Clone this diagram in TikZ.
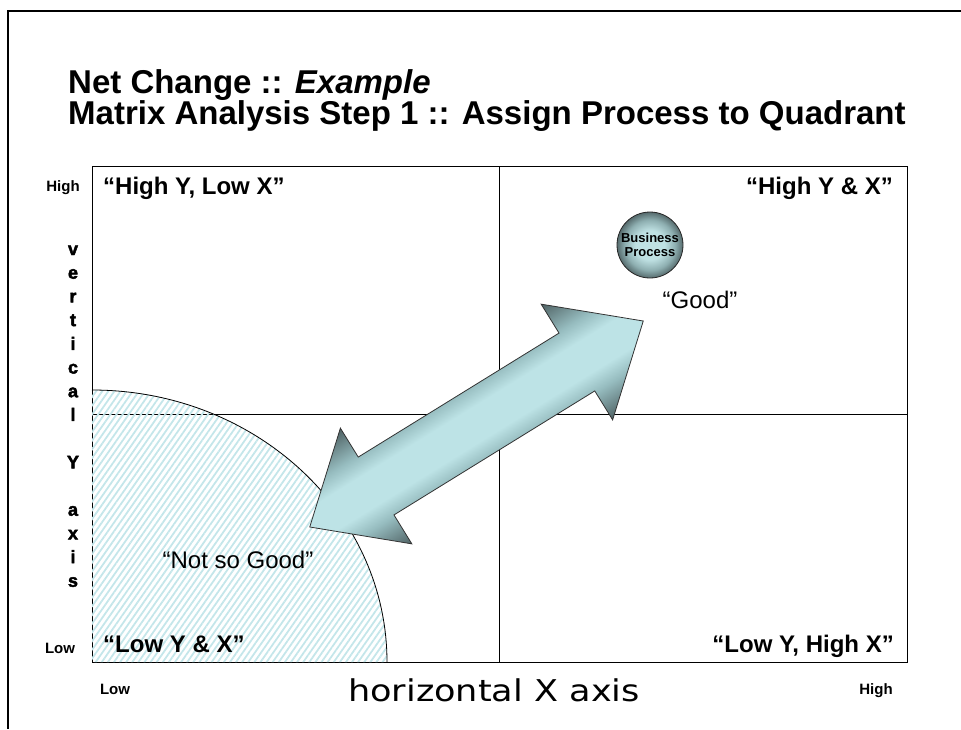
\documentclass[tikz,border=0pt]{standalone}
\usepackage{fontspec}
\setmainfont{Liberation Sans}
\newfontfamily\axisfont[FakeStretch=1.17]{DejaVu Sans}
\newfontfamily\heavyfont[BoldFeatures={FakeBold=2.5}]{Liberation Sans}
\usepackage{tikz}
\usepackage{xcolor}
\usetikzlibrary{patterns.meta}

\definecolor{hatch-cyan}{HTML}{C4E6EA}
\definecolor{arrow-dark}{HTML}{4F6264}
\definecolor{arrow-mid}{HTML}{96BCBF}
\definecolor{arrow-light}{HTML}{BDE3E6}
\definecolor{ball-light}{HTML}{BFE1E3}
\definecolor{ball-mid}{HTML}{8EAFB1}
\definecolor{ball-dark}{HTML}{566B6D}
\pgfdeclareverticalshading{arrow-shade}{100bp}{color(0bp)=(arrow-dark); color(25bp)=(arrow-dark); color(37bp)=(arrow-mid); color(44bp)=(arrow-light); color(56bp)=(arrow-light); color(63bp)=(arrow-mid); color(75bp)=(arrow-dark); color(100bp)=(arrow-dark)}
\pgfdeclareradialshading{ball-shade}{\pgfpoint{0bp}{0bp}}{color(0bp)=(ball-light); color(11bp)=(ball-light); color(19bp)=(ball-mid); color(25bp)=(ball-dark); color(50bp)=(ball-dark)}

\tikzset{
    title-text/.style = {font=\fontsize{33}{35}\selectfont\bfseries, inner sep=0pt},
    quad-label/.style = {font=\fontsize{24}{26}\selectfont\bfseries, inner sep=0pt},
    end-label/.style = {font=\fontsize{15}{17}\selectfont\bfseries, inner sep=0pt},
    axis-letter/.style = {font=\heavyfont\fontsize{18}{20}\selectfont\bfseries, inner sep=0pt, anchor=base},
    note-label/.style = {font=\fontsize{24}{26}\selectfont, inner sep=0pt, anchor=base},
    grid-line/.style = {draw=black, line width=1pt},
    process-ball/.style = {circle, draw=black!85, line width=0.8pt, minimum size=66pt, inner sep=0pt,
        shading=ball-shade, align=center,
        font=\fontsize{13}{14}\selectfont\bfseries},
}

\begin{document}
\begin{tikzpicture}[x=1pt, y=-1pt]
\useasboundingbox (0,0) rectangle (961,729);

% page frame
\draw[line width=2.5pt] (961,11) -- (8,11) -- (8,729);

% title
\node[title-text, anchor=base west] (title-a) at (68,93) {Net Change :: \textit{Example}};
\node[title-text, anchor=base west] (title-b) at (68,124) {Matrix Analysis Step 1 :: Assign Process to Quadrant};

% matrix
\draw[grid-line] (92,166) rectangle (907,662);
\draw[grid-line] (499,166) -- (499,662);
\draw[grid-line] (92,414) -- (907,414);

% low/low zone
\fill[pattern={Lines[angle=55,distance=5pt,line width=1.8pt]}, pattern color=hatch-cyan]
    (92,662) -- (92,390) arc[start angle=270, end angle=360, x radius=295, y radius=272] -- cycle;
\draw[line width=0.8pt] (92,390) arc[start angle=270, end angle=360, x radius=295, y radius=272];

% quadrant names
\node[quad-label, anchor=base west] (q-tl) at (103,194) {“High Y, Low X”};
\node[quad-label, anchor=base east] (q-tr) at (893,194) {“High Y \& X”};
\node[quad-label, anchor=base west] (q-bl) at (103,652) {“Low Y \& X”};
\node[quad-label, anchor=base east] (q-br) at (894,652) {“Low Y, High X”};

% axes
\node[end-label, anchor=base] (y-high) at (63,191) {High};
\node[end-label, anchor=base] (y-low) at (60,653) {Low};
\node[end-label, anchor=base] (x-low) at (115,694) {Low};
\node[end-label, anchor=base] (x-high) at (876,694) {High};
\node[font=\axisfont\fontsize{30}{32}\selectfont, inner sep=0pt, anchor=base] (x-axis) at (494,701) {horizontal X axis};
\foreach \k/\ch in {0/v,1/e,2/r,3/t,4/i,5/c,6/a,7/l,9/Y,11/a,12/x,13/i,14/s}
    \node[axis-letter] (y-axis-\k) at (73,{255+23.7*\k}) {\ch};

% double arrow
\begin{scope}[transform canvas={shift={(476.5,424)}, rotate=31.7}]
\shadedraw[shading=arrow-shade, draw=black!80, line width=0.8pt]
    (196pt,0pt) -- (118pt,68pt) -- (118pt,34pt) -- (-118pt,34pt) -- (-118pt,68pt) -- (-196pt,0pt)
    -- (-118pt,-68pt) -- (-118pt,-34pt) -- (118pt,-34pt) -- (118pt,-68pt) -- cycle;
\end{scope}

\node[process-ball] (process) at (650,245) {Business\\Process};
\node[note-label] (good) at (700,308) {“Good”};
\node[note-label] (not-good) at (238,568) {“Not so Good”};
\end{tikzpicture}
\end{document}
